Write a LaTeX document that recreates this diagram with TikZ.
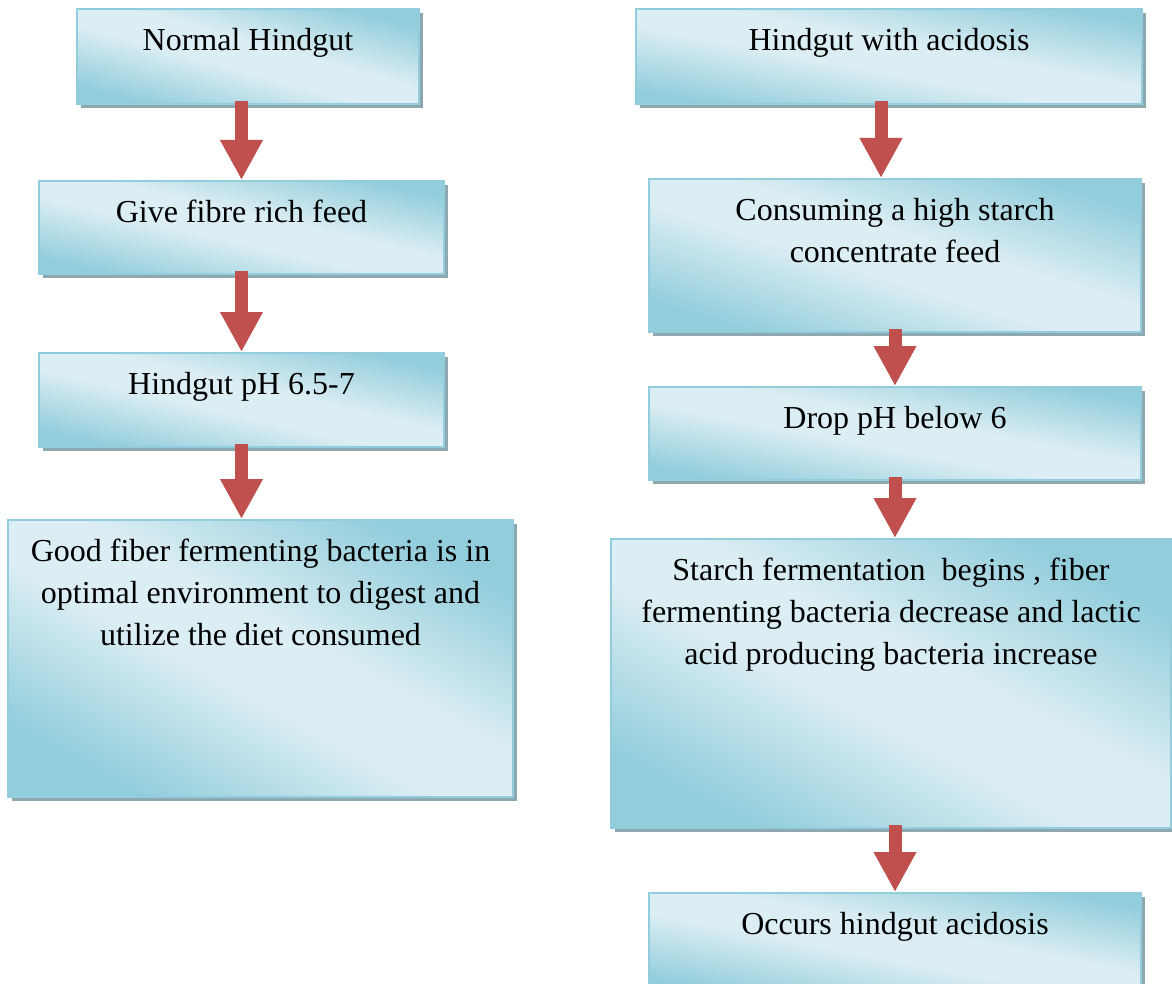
\documentclass[tikz,border=0pt]{standalone}
\usepackage{fontspec}
\setmainfont{Liberation Serif}
\usetikzlibrary{arrows.meta,shadows}
\definecolor{boxdark}{RGB}{146,205,220}
\definecolor{boxlight}{RGB}{219,238,243}
\definecolor{boxline}{RGB}{147,205,221}
\definecolor{shadowcol}{RGB}{142,168,178}
\definecolor{arrowcol}{RGB}{192,80,77}
\pgfdeclareverticalshading{boxshade}{100bp}{color(0bp)=(boxdark); color(25bp)=(boxdark); color(45bp)=(boxlight); color(55bp)=(boxlight); color(75bp)=(boxdark); color(100bp)=(boxdark)}
\begin{document}
\begin{tikzpicture}[x=0.5pt,y=-0.5pt,
  box/.style={draw=boxline, line width=1pt, shade, shading=boxshade, shading angle=#1,
    anchor=north west, inner sep=0pt,
    drop shadow={fill=shadowcol, opacity=1, shadow xshift=2pt, shadow yshift=-2pt}},
  lbl/.style={font=\fontsize{16}{21}\selectfont, align=center, anchor=north, inner sep=0pt, yshift=-10pt},
  flow/.style={draw=arrowcol, line width=6.5pt, shorten <=-2pt, -{Triangle[width=20pt,length=20pt]}}]
\useasboundingbox (0,0) rectangle (1172,984);
%%
  % Node: normal
  \node[box=-15.5, minimum width=171pt, minimum height=47.5pt] (normal) at (76,8) {};
  \node[lbl] (normal-t) at (normal.north) {Normal Hindgut};
  % Node: fibre
  \node[box=-12.9, minimum width=202.5pt, minimum height=46.5pt] (fibre) at (38,180) {};
  \node[lbl] (fibre-t) at (fibre.north) {Give fibre rich feed};
  % Node: phok
  \node[box=-13.1, minimum width=202.5pt, minimum height=47pt] (phok) at (38,352) {};
  \node[lbl] (phok-t) at (phok.north) {Hindgut pH 6.5-7};
  % Node: goodbact
  \node[box=-28.7, minimum width=252.5pt, minimum height=138.5pt] (goodbact) at (7,519) {};
  \node[lbl] (goodbact-t) at (goodbact.north) {Good fiber fermenting bacteria is in\\optimal environment to digest and\\utilize the diet consumed};
  % Node: acidosis
  \node[box=-10.6, minimum width=253pt, minimum height=47.5pt] (acidosis) at (635,8) {};
  \node[lbl] (acidosis-t) at (acidosis.north) {Hindgut with acidosis};
  % Node: starchfeed
  \node[box=-17.3, minimum width=246pt, minimum height=76.5pt] (starchfeed) at (648,178) {};
  \node[lbl] (starchfeed-t) at (starchfeed.north) {Consuming a high starch\\concentrate feed};
  % Node: phdrop
  \node[box=-10.7, minimum width=246pt, minimum height=46.5pt] (phdrop) at (648,386) {};
  \node[lbl] (phdrop-t) at (phdrop.north) {Drop pH below 6};
  % Node: starchferm
  \node[box=-27.3, minimum width=280pt, minimum height=144.5pt] (starchferm) at (610,538) {};
  \node[lbl] (starchferm-t) at (starchferm.north) {Starch fermentation\ \ begins , fiber\\fermenting bacteria decrease and lactic\\acid producing bacteria increase};
  % Node: occurs
  \node[box=-10.9, minimum width=246pt, minimum height=50pt] (occurs) at (648,892) {};
  \node[lbl] (occurs-t) at (occurs.north) {Occurs hindgut acidosis};
%%
  % Edge: normal -> fibre
  \draw[flow] (fibre.north |- normal.south) -- (fibre.north);
  % Edge: fibre -> phok
  \draw[flow] (fibre.south) -- (phok.north);
  % Edge: phok -> goodbact
  \draw[flow] (phok.south) -- (phok.south |- goodbact.north);
  % Edge: acidosis -> starchfeed
  \draw[flow] ([xshift=-4pt]acidosis.south) -- ([xshift=-4pt]acidosis.south |- starchfeed.north);
  % Edge: starchfeed -> phdrop
  \draw[flow] (starchfeed.south) -- (phdrop.north);
  % Edge: phdrop -> starchferm
  \draw[flow] (phdrop.south) -- (phdrop.south |- starchferm.north);
  % Edge: starchferm -> occurs
  \draw[flow] (occurs.north |- starchferm.south) -- (occurs.north);
%
\end{tikzpicture}
\end{document}
